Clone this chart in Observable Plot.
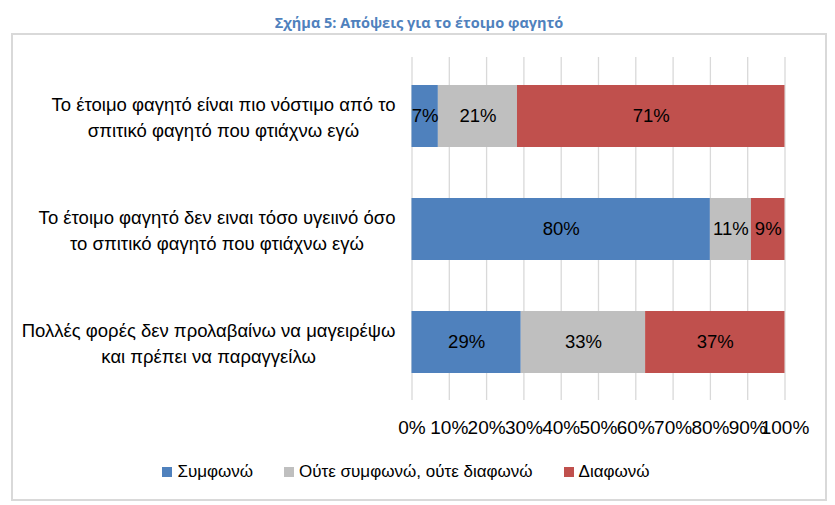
<!DOCTYPE html>
<html>
<head>
<meta charset="utf-8">
<script src="https://cdn.jsdelivr.net/npm/d3@7"></script>
<script src="https://cdn.jsdelivr.net/npm/@observablehq/plot@0.6"></script>
<style>
  html, body { margin: 0; padding: 0; background: #fff; }
  body { width: 835px; height: 505px; position: relative; overflow: hidden; font-family: "Liberation Sans", Arial, sans-serif; }
  #title { position: absolute; left: 11px; width: 816px; top: 13px; text-align: center;
           font-family: "Open Sans", sans-serif; font-weight: 700; font-size: 14.5px; color: #4f81bd; line-height: 19px; }
  #box { position: absolute; left: 11px; top: 33px; width: 816px; height: 468px; box-sizing: border-box; border: 2px solid #d9d9d9; }
  #chart { position: absolute; left: 0; top: 0; }
  #legend { position: absolute; left: 0; width: 812px; top: 462px; display: flex; justify-content: center; gap: 31px;
            font-size: 17px; color: #000; line-height: 20px; }
  #legend .item { display: flex; align-items: center; }
  #legend .sw { width: 10px; height: 10px; margin-right: 5px; }
</style>
</head>
<body>
<div id="title">Σχήμα 5: Απόψεις για το έτοιμο φαγητό</div>
<div id="box"></div>
<div id="chart"></div>
<div id="legend"></div>
<script>
const categories = [
  "Το έτοιμο φαγητό είναι πιο νόστιμο από το\nσπιτικό φαγητό που φτιάχνω εγώ",
  "Το έτοιμο φαγητό δεν ειναι τόσο υγειινό όσο\nτο σπιτικό φαγητό που φτιάχνω εγώ",
  "Πολλές φορές δεν προλαβαίνω να μαγειρέψω\nκαι πρέπει να παραγγείλω"
];
const series = ["Συμφωνώ", "Ούτε συμφωνώ, ούτε διαφωνώ", "Διαφωνώ"];
const agree = [7, 80, 29];
const neutral = [21, 11, 33];
const disagree = [71, 9, 37];
const colors = ["#4f81bd", "#bfbfbf", "#c0504d"];
const xTicks = [0, 0.1, 0.2, 0.3, 0.4, 0.5, 0.6, 0.7, 0.8, 0.9, 1];

const seriesValues = [agree, neutral, disagree];
const rows = [];
categories.forEach((c, i) => {
  seriesValues.forEach((arr, j) => rows.push({cat: c, series: series[j], value: arr[i]}));
});

const FONT = 18.5;
const ctx = document.createElement("canvas").getContext("2d");
ctx.font = `${FONT}px "Liberation Sans", Arial, sans-serif`;
const labelMarks = categories.map(c => {
  const w = Math.max(...c.split("\n").map(l => ctx.measureText(l).width));
  return Plot.text([c], {
    y: d => d, text: d => d, frameAnchor: "left", textAnchor: "middle",
    dx: -(16.5 + w / 2), lineAnchor: "middle", lineHeight: 1.45, fontSize: FONT, fill: "#000", dy: -1
  });
});

const chart = Plot.plot({
  width: 835,
  height: 450,
  marginLeft: 411.5,
  marginRight: 50.5,
  marginTop: 57,
  marginBottom: 50,
  style: {fontFamily: '"Liberation Sans", Arial, sans-serif', fontSize: FONT + "px", color: "#000", background: "transparent", overflow: "visible"},
  x: {domain: [0, 1], axis: null},
  y: {domain: categories, paddingInner: 0.455, paddingOuter: 0.235, axis: null},
  color: {domain: series, range: colors},
  marks: [
    Plot.gridX(xTicks, {stroke: "#d9d9d9", strokeOpacity: 1, strokeWidth: 1.3}),
    Plot.barX(rows, Plot.stackX({offset: "normalize", x: "value", y: "cat", z: "series", fill: "series"})),
    Plot.text(rows, Plot.stackX({offset: "normalize", x: "value", y: "cat", z: "series", text: d => d.value + "%", fill: "#000", fontSize: FONT})),
    Plot.axisX(xTicks, {tickFormat: d3.format(".0%"), tickSize: 0, tickPadding: 20, fontSize: 19, fill: "#000", label: null}),
    ...labelMarks
  ]
});
document.getElementById("chart").appendChild(chart);

const legend = document.getElementById("legend");
series.forEach((s, i) => {
  const item = document.createElement("div");
  item.className = "item";
  const sw = document.createElement("span");
  sw.className = "sw";
  sw.style.background = colors[i];
  const t = document.createElement("span");
  t.textContent = s;
  item.appendChild(sw); item.appendChild(t);
  legend.appendChild(item);
});
</script>
</body>
</html>
